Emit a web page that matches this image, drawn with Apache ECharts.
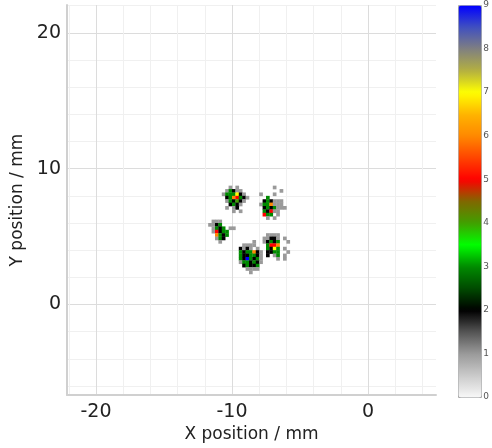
<!DOCTYPE html>
<html>
<head>
<meta charset="utf-8">
<script src="https://cdn.jsdelivr.net/npm/echarts@6/dist/echarts.min.js"></script>
<style>
  html, body { margin: 0; padding: 0; background: #fff; }
  #main { width: 492px; height: 448px; }
</style>
</head>
<body>
<div id="main"></div>
<script>
// bin width of the 2D histogram (mm)
var binSize = 0.25;

// centre of the top-left bin of each spot, mm
var spotOrigins = [
  [-10.625, 8.625],
  [-7.875, 8.625],
  [-11.625, 6.125],
  [-9.375, 4.625],
  [-7.625, 5.125]
];

// counts per bin, rows from top to bottom, '.' = empty
var spotCounts = [
  [
    '..1.1...',
    '.13211..',
    '1333721.',
    '.2365321',
    '.132421.',
    '..2321..',
    '.1.12...',
    '...1.1..'
  ],
  [
    '....1...',
    '......1.',
    '1...1...',
    '..3.....',
    '.232111.',
    '1336111.',
    '.2323111',
    '.32511..',
    '.533.1..',
    '..1.1...'
  ],
  [
    '.111....',
    '1123....',
    '.1323.11',
    '.15233..',
    '..6323..',
    '..132...',
    '...1....'
  ],
  [
    '....1..',
    '.1111..',
    '2121.1.',
    '3233621',
    '3223321',
    '3293231',
    '1332321',
    '.23223.',
    '..1111.',
    '...1...'
  ],
  [
    '.1111...',
    '11221.1.',
    '12323..1',
    '.3556...',
    '.3273.1.',
    '.2233..1',
    '.2.13.1.',
    '....1.1.'
  ]
];

var colorTicks = [0, 1, 2, 3, 4, 5, 6, 7, 8, 9];

var data = [];
spotCounts.forEach(function (rows, k) {
  var x0 = spotOrigins[k][0], y0 = spotOrigins[k][1];
  rows.forEach(function (row, r) {
    for (var c = 0; c < row.length; c++) {
      var v = parseInt(row[c], 10);
      if (!isNaN(v) && v > 0) {
        data.push([x0 + c * binSize, y0 - r * binSize, v]);
      }
    }
  });
});

var chart = echarts.init(document.getElementById('main'));
var font = 'DejaVu Sans';

var option = {
  backgroundColor: '#fff',
  animation: false,
  textStyle: { fontFamily: font },
  grid: [
    { left: 67, right: 56, top: 5, bottom: 51 },
    { left: 458, width: 23, top: 5, height: 392 }
  ],
  xAxis: [
    {
      type: 'value',
      min: -22.13,
      max: 5,
      minInterval: 10,
      maxInterval: 10,
      name: 'X position / mm',
      nameLocation: 'middle',
      nameGap: 28,
      nameTextStyle: { fontSize: 17, color: '#222', fontFamily: font },
      axisLine: { show: true, onZero: false, lineStyle: { color: '#d0d0d0', width: 2 } },
      axisTick: { show: false },
      axisLabel: {
        fontSize: 19, color: '#222', margin: 7, fontFamily: font,
        showMinLabel: false, showMaxLabel: false,
        formatter: function (v) { return v % 10 === 0 ? String(v) : ''; }
      },
      splitLine: { show: true, showMinLine: false, showMaxLine: false, lineStyle: { color: '#dcdcdc', width: 1 } },
      minorTick: { show: false, splitNumber: 5 },
      minorSplitLine: { show: true, lineStyle: { color: '#f0f0f0', width: 1 } }
    },
    { type: 'value', gridIndex: 1, show: false, min: 0, max: 1 }
  ],
  yAxis: [
    {
      type: 'value',
      min: -6.67,
      max: 22.05,
      minInterval: 10,
      maxInterval: 10,
      name: 'Y position / mm',
      nameLocation: 'middle',
      nameGap: 38,
      nameRotate: 90,
      nameTextStyle: { fontSize: 17, color: '#222', fontFamily: font },
      axisLine: { show: true, onZero: false, lineStyle: { color: '#d0d0d0', width: 2 } },
      axisTick: { show: false },
      axisLabel: {
        fontSize: 19, color: '#222', margin: 6, fontFamily: font,
        showMinLabel: false, showMaxLabel: false,
        formatter: function (v) { return v % 10 === 0 ? String(v) : ''; }
      },
      splitLine: { show: true, showMinLine: false, showMaxLine: false, lineStyle: { color: '#dcdcdc', width: 1 } },
      minorTick: { show: false, splitNumber: 5 },
      minorSplitLine: { show: true, lineStyle: { color: '#f0f0f0', width: 1 } }
    },
    {
      type: 'value',
      gridIndex: 1,
      position: 'right',
      min: colorTicks[0],
      max: colorTicks[colorTicks.length - 1],
      interval: 1,
      axisLine: { show: false },
      axisTick: { show: false },
      splitLine: { show: false },
      axisLabel: { fontSize: 9, color: '#555', margin: 4, fontFamily: font }
    }
  ],
  visualMap: {
    type: 'continuous',
    seriesIndex: 0,
    dimension: 2,
    min: 0,
    max: 9,
    calculable: false,
    hoverLink: false,
    left: 458,
    top: 5,
    padding: 0,
    itemWidth: 23,
    itemHeight: 392,
    borderColor: '#aaa',
    borderWidth: 1,
    inRange: {
      color: [
        '#f8f8f8', '#cacaca', '#9a9a9a', '#555555', '#000000',
        '#004a00', '#008a00', '#00ff00', '#40a000', '#806800',
        '#ff0000', '#ff4400', '#ff8800', '#ffb400', '#ffff00',
        '#b4b040', '#808080', '#4050c0', '#0000ff'
      ]
    }
  },
  series: [
    {
      type: 'custom',
      xAxisIndex: 0,
      yAxisIndex: 0,
      encode: { x: 0, y: 1 },
      clip: true,
      renderItem: function (params, api) {
        var c = api.coord([api.value(0), api.value(1)]);
        var s = api.size([binSize, binSize]);
        return {
          type: 'rect',
          shape: { x: c[0] - s[0] / 2, y: c[1] - s[1] / 2, width: s[0] + 0.3, height: s[1] + 0.3 },
          style: { fill: api.visual('color') }
        };
      },
      data: data
    }
  ]
};

chart.setOption(option);
</script>
</body>
</html>
